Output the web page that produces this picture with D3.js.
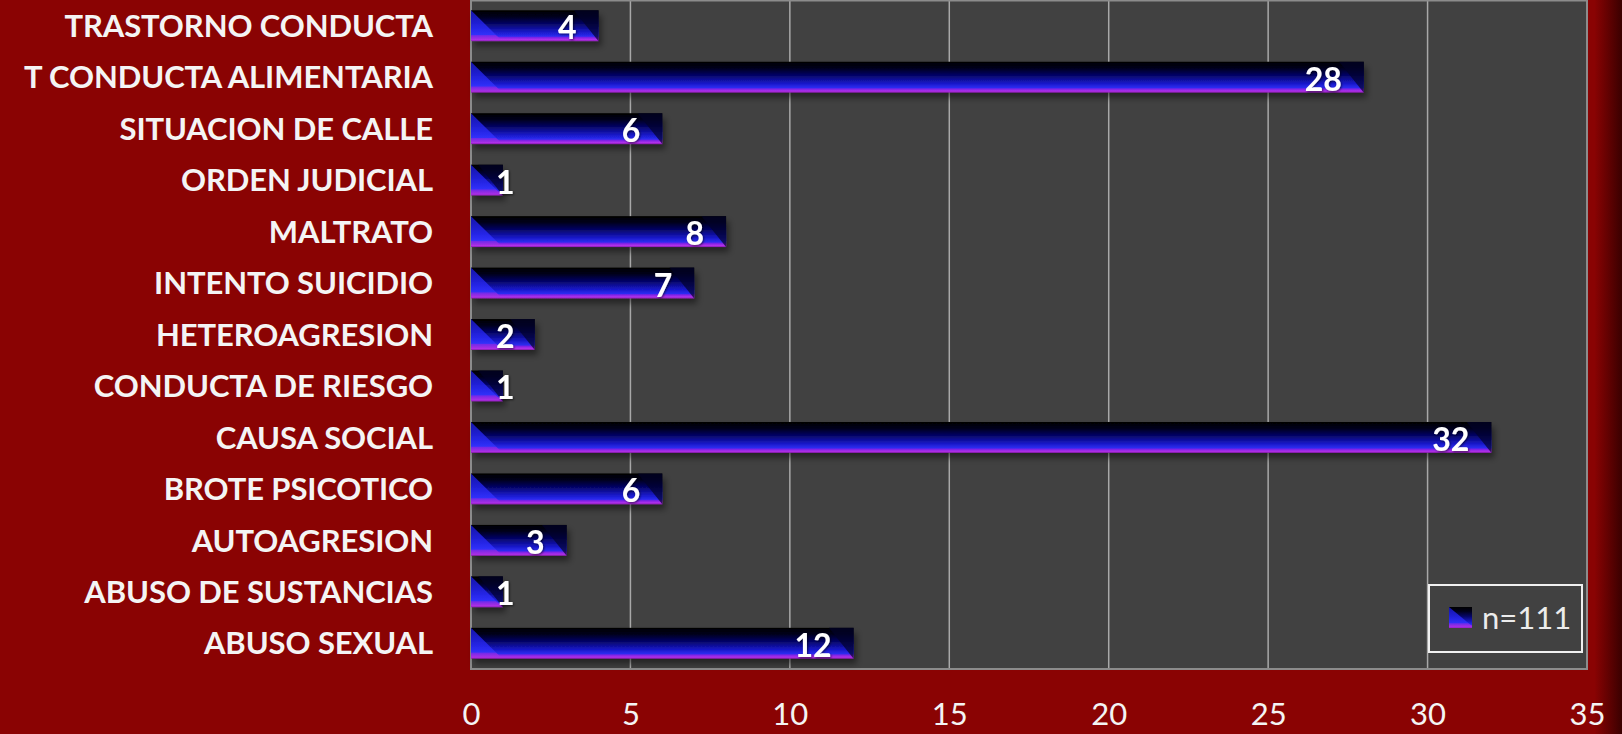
<!DOCTYPE html>
<html><head><meta charset="utf-8">
<script src="https://cdn.jsdelivr.net/npm/d3@7"></script>
<style>
html,body{margin:0;padding:0;background:#8a0303;overflow:hidden}
svg{display:block}
</style></head>
<body>
<svg id="chart" width="1622" height="734"></svg>
<script>
// Data (top to bottom as displayed)
const categories = ["TRASTORNO CONDUCTA","T CONDUCTA ALIMENTARIA","SITUACION DE CALLE","ORDEN JUDICIAL","MALTRATO","INTENTO SUICIDIO","HETEROAGRESION","CONDUCTA DE RIESGO","CAUSA SOCIAL","BROTE PSICOTICO","AUTOAGRESION","ABUSO DE SUSTANCIAS","ABUSO SEXUAL"];
const values = [4,28,6,1,8,7,2,1,32,6,3,1,12];
const xTicks = [0,5,10,15,20,25,30,35];
const seriesName = "n=111";

const W = 1622, H = 734;
const plot = {left: 471, right: 1587, top: 0, bottom: 669};
const svg = d3.select("#chart");

const defs = svg.append("defs");
const bg = defs.append("linearGradient").attr("id","bgGrad").attr("x1","0").attr("x2","1").attr("y1","0").attr("y2","0");
bg.append("stop").attr("offset","0").attr("stop-color","#8a0303");
bg.append("stop").attr("offset","0.983").attr("stop-color","#8a0303");
bg.append("stop").attr("offset","1").attr("stop-color","#3a0000");

const barGrad = defs.append("linearGradient").attr("id","barGrad").attr("x1","0").attr("x2","0").attr("y1","0").attr("y2","1");
[[0,"#000000"],[0.2,"#00001a"],[0.45,"#06066a"],[0.7,"#1818c8"],[0.84,"#2c2cf0"],[0.88,"#7a22e6"],[0.95,"#b030ea"],[1,"#8a1cb0"]]
  .forEach(([o,c])=>barGrad.append("stop").attr("offset",o).attr("stop-color",c));
const leftGrad = defs.append("linearGradient").attr("id","leftGrad").attr("x1","0").attr("x2","0").attr("y1","0").attr("y2","1");
[[0,"#1a1ad8"],[0.6,"#2a2af8"],[0.84,"#3434ff"],[0.88,"#8a2ae8"],[1,"#a030e0"]]
  .forEach(([o,c])=>leftGrad.append("stop").attr("offset",o).attr("stop-color",c));

const shadow = defs.append("filter").attr("id","shadow").attr("x","-10%").attr("y","-30%").attr("width","130%").attr("height","180%");
shadow.append("feDropShadow").attr("dx",3).attr("dy",5).attr("stdDeviation",3).attr("flood-color","#000").attr("flood-opacity",0.45);
const txtShadow = defs.append("filter").attr("id","tshadow").attr("x","-20%").attr("y","-20%").attr("width","150%").attr("height","150%");
txtShadow.append("feDropShadow").attr("dx",1).attr("dy",1).attr("stdDeviation",1).attr("flood-color","#000").attr("flood-opacity",0.6);

svg.append("rect").attr("width",W).attr("height",H).attr("fill","url(#bgGrad)");

const x = d3.scaleLinear().domain([0,35]).range([plot.left, plot.right]);
const y = d3.scaleBand().domain(categories).range([plot.top, plot.bottom]).paddingInner(0.4).paddingOuter(0.2);

svg.append("rect").attr("x",plot.left).attr("y",plot.top).attr("width",plot.right-plot.left).attr("height",plot.bottom-plot.top)
  .attr("fill","#414141");

svg.append("g").selectAll("line").data(xTicks.filter(t=>t>0 && t<35)).join("line")
  .attr("x1",d=>x(d)).attr("x2",d=>x(d)).attr("y1",plot.top).attr("y2",plot.bottom)
  .attr("stroke","#a8a8a8").attr("stroke-width",1.5);

svg.append("rect").attr("x",plot.left).attr("y",plot.top+0.5).attr("width",plot.right-plot.left).attr("height",plot.bottom-plot.top-0.5)
  .attr("fill","none").attr("stroke","#8c8c8c").attr("stroke-width",2);

const xAxis = d3.axisBottom(x).tickValues(xTicks).tickSize(0).tickPadding(0);
const gx = svg.append("g").attr("transform",`translate(0,${plot.bottom})`).call(xAxis);
gx.select(".domain").remove();
gx.selectAll("text").attr("y",56).attr("dy",0).attr("fill","#f4f4f4")
  .style("font-family","Lato, 'Open Sans', sans-serif").style("font-size","31px");

const yAxis = d3.axisLeft(y).tickSize(0).tickPadding(0);
const gy = svg.append("g").attr("transform",`translate(433,0)`).call(yAxis);
gy.select(".domain").remove();
gy.selectAll("text").attr("x",0).attr("dy","0.36em").attr("fill","#f4f4f4")
  .style("font-family","Lato, 'Open Sans', sans-serif").style("font-weight","bold").style("font-size","31px")
  .style("letter-spacing","-0.1px");

const data = categories.map((c,i)=>({cat:c, v:values[i]}));
const bars = svg.append("g").selectAll("g").data(data).join("g");
const bh = y.bandwidth();
bars.append("rect").attr("x",x(0)).attr("y",d=>y(d.cat)).attr("width",d=>x(d.v)-x(0)).attr("height",bh)
  .attr("fill","url(#barGrad)").attr("filter","url(#shadow)");
bars.append("path").attr("d",d=>{
  const x0=x(0), t=y(d.cat), b=t+bh, w=Math.min(bh*0.95, x(d.v)-x0);
  return `M${x0},${t}L${x0+w},${b-2}L${x0},${b-2}Z`;
}).attr("fill","url(#leftGrad)").attr("opacity",0.8);
bars.append("path").attr("d",d=>{
  const xe=x(d.v), t=y(d.cat), b=t+bh, w=Math.min(bh*0.8, x(d.v)-x(0));
  return `M${xe-w},${t}L${xe},${t}L${xe},${b}Z`;
}).attr("fill","#02022a").attr("opacity",0.7);

const labels = bars.append("text")
  .attr("y",d=>y(d.cat)+bh/2+2).attr("dy","0.36em")
  .attr("text-anchor","end").attr("fill","#ffffff")
  .style("font-family","Lato, 'Open Sans', sans-serif").style("font-weight","bold").style("font-size","32px")
  .attr("filter","url(#tshadow)")
  .text(d=>d.v);
labels.attr("x",function(d){
  const tw = this.getComputedTextLength();
  return Math.max(x(d.v)-22, x(0)+25+tw);
});

const lg = svg.append("g");
lg.append("rect").attr("x",1429).attr("y",585).attr("width",153).attr("height",67)
  .attr("fill","#414141").attr("stroke","#f0f0f0").attr("stroke-width",2);
lg.append("rect").attr("x",1449).attr("y",607).attr("width",23).attr("height",21).attr("fill","url(#barGrad)");
lg.append("path").attr("d","M1449,607L1472,626L1449,626Z").attr("fill","url(#leftGrad)").attr("opacity",0.8);
lg.append("text").attr("x",1482).attr("y",618).attr("dy","0.36em").attr("fill","#ececec")
  .style("font-family","Lato, 'Open Sans', sans-serif").style("font-size","31px").text(seriesName);
</script>
</body></html>
